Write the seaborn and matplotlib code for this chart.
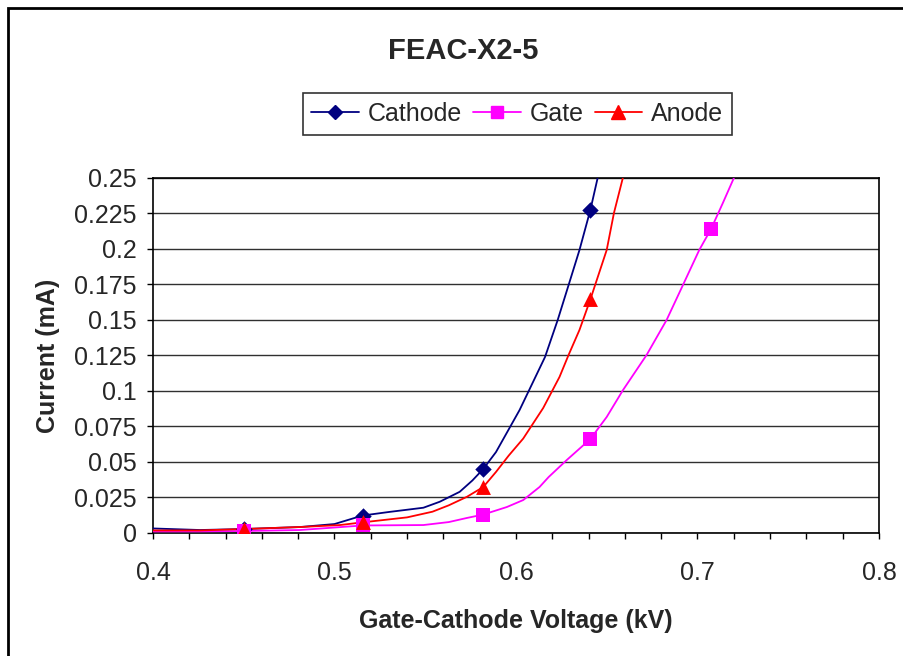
import pandas as pd
import matplotlib.pyplot as plt
import seaborn as sns
from matplotlib.lines import Line2D
from matplotlib.patches import Rectangle

# Curve points (kV, mA)
cathode_v = [0.400, 0.426, 0.450, 0.481, 0.500, 0.5155, 0.530, 0.549, 0.558, 0.569, 0.576, 0.582,
             0.589, 0.602, 0.616, 0.623, 0.629, 0.635, 0.641, 0.646]
cathode_i = [0.0032, 0.0021, 0.0028, 0.0042, 0.0063, 0.0123, 0.0148, 0.0178, 0.0220, 0.0290, 0.0370, 0.0451,
             0.0570, 0.0866, 0.1239, 0.1500, 0.1746, 0.1993, 0.2275, 0.2556]

gate_v = [0.400, 0.426, 0.450, 0.481, 0.5155, 0.549, 0.563, 0.573, 0.582, 0.595, 0.604, 0.613,
          0.618, 0.628, 0.641, 0.650, 0.659, 0.672, 0.683, 0.692, 0.701, 0.7075, 0.714, 0.722]
gate_i = [0.0011, 0.0011, 0.0014, 0.0021, 0.0053, 0.0056, 0.0077, 0.0106, 0.0130, 0.0183, 0.0232, 0.0324,
          0.0394, 0.0514, 0.0662, 0.0817, 0.1007, 0.1254, 0.1500, 0.1746, 0.1993, 0.2141, 0.2324, 0.2556]

anode_v = [0.400, 0.426, 0.450, 0.481, 0.503, 0.5155, 0.540, 0.554, 0.563, 0.573, 0.582, 0.589,
           0.596, 0.604, 0.615, 0.624, 0.629, 0.635, 0.641, 0.644, 0.650, 0.654, 0.660]
anode_i = [0.0018, 0.0018, 0.0028, 0.0042, 0.0056, 0.0075, 0.0110, 0.0150, 0.0195, 0.0255, 0.0324, 0.0430,
           0.0545, 0.0665, 0.0880, 0.1099, 0.1254, 0.1430, 0.1645, 0.1761, 0.1993, 0.2254, 0.2556]

# Measured points (markers)
cathode_pts_v = [0.450, 0.5155, 0.582, 0.641]
cathode_pts_i = [0.0028, 0.0123, 0.0451, 0.2275]
gate_pts_v = [0.450, 0.5155, 0.582, 0.641, 0.7075]
gate_pts_i = [0.0014, 0.0053, 0.0130, 0.0662, 0.2141]
anode_pts_v = [0.450, 0.5155, 0.582, 0.641]
anode_pts_i = [0.0030, 0.0075, 0.0324, 0.1645]

x_ticks = [0.4, 0.5, 0.6, 0.7, 0.8]
x_labels = ['0.4', '0.5', '0.6', '0.7', '0.8']
y_ticks = [0, 0.025, 0.05, 0.075, 0.1, 0.125, 0.15, 0.175, 0.2, 0.225, 0.25]
y_labels = ['0', '0.025', '0.05', '0.075', '0.1', '0.125', '0.15', '0.175', '0.2', '0.225', '0.25']

sns.set_style('white')
plt.rcParams['font.family'] = ['Liberation Sans', 'DejaVu Sans']

fig = plt.figure(figsize=(9.04, 6.56), dpi=100)
ax = fig.add_axes([0.1692, 0.1875, 0.8031, 0.5412])

series = [
    ('Cathode', cathode_v, cathode_i, cathode_pts_v, cathode_pts_i, '#000080', 'D', 70),
    ('Gate', gate_v, gate_i, gate_pts_v, gate_pts_i, '#FF00FF', 's', 95),
    ('Anode', anode_v, anode_i, anode_pts_v, anode_pts_i, '#FF0000', '^', 115),
]

handles = []
for name, v, i, pv, pi, color, marker, size in series:
    curve = pd.DataFrame({'V': v, 'I': i})
    pts = pd.DataFrame({'V': pv, 'I': pi})
    sns.lineplot(data=curve, x='V', y='I', color=color, linewidth=1.3, sort=False, ax=ax, zorder=3)
    sns.scatterplot(data=pts, x='V', y='I', color=color, marker=marker, s=size, linewidth=0, ax=ax, zorder=4)
    handles.append(Line2D([], [], color=color, linewidth=1.3, marker=marker,
                          markersize={'D': 7.5, 's': 9, '^': 10}[marker], label=name))

ax.set_xlim(0.4, 0.8)
ax.set_ylim(0, 0.25)
ax.set_xticks(x_ticks)
ax.set_xticklabels(x_labels)
ax.set_xticks([0.4 + 0.02 * k for k in range(21)], minor=True)
ax.set_yticks(y_ticks)
ax.set_yticklabels(y_labels)
ax.tick_params(axis='both', which='both', direction='out', length=4.5, width=1, color='black',
               labelsize=18, bottom=True, left=True)
ax.tick_params(axis='x', pad=16)
ax.tick_params(axis='y', pad=7)
ax.yaxis.grid(True, color='#303030', linewidth=1.0)
ax.xaxis.grid(False)
for sp in ax.spines.values():
    sp.set_color('black')
    sp.set_linewidth(1.2)

ax.set_xlabel('Gate-Cathode Voltage (kV)', fontsize=18, fontweight='bold', labelpad=17)
ax.set_ylabel('Current (mA)', fontsize=18, fontweight='bold', labelpad=10)

fig.text(0.512, 0.922, 'FEAC-X2-5', ha='center', va='center', fontsize=21, fontweight='bold')

leg = fig.legend(handles=handles, loc='center', bbox_to_anchor=(0.572, 0.826), ncol=3,
                 fontsize=18, frameon=True, fancybox=False, handlelength=1.9,
                 columnspacing=0.45, handletextpad=0.35, borderpad=0.35, borderaxespad=0.3)
leg.get_frame().set_edgecolor('black')
leg.get_frame().set_linewidth(1.2)

# outer chart border
fig.patches.append(Rectangle((8 / 904, -0.05), 1.0, 1 - 8 / 656 + 0.05, transform=fig.transFigure,
                             fill=False, edgecolor='black', linewidth=2))

fig.savefig('out.png', dpi=100)
